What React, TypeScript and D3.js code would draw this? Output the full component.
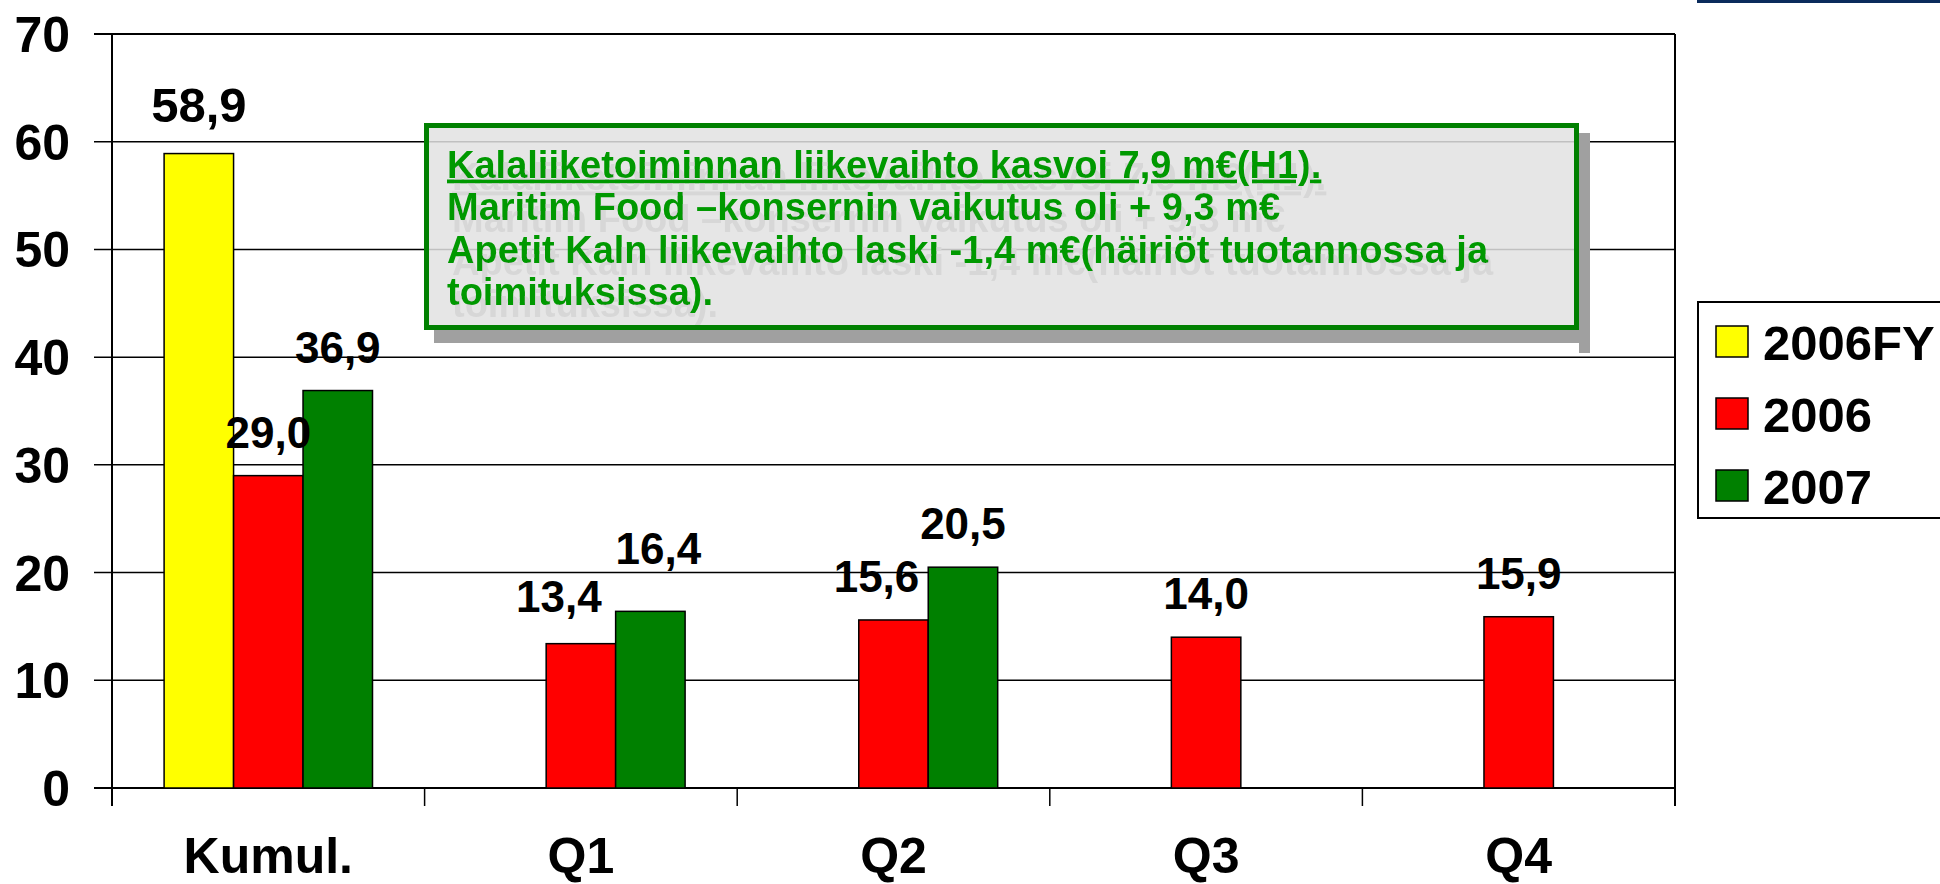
import React, { useEffect, useRef } from 'react';
import * as d3 from 'd3';

// chart data
const categories = ['Kumul.', 'Q1', 'Q2', 'Q3', 'Q4'];
const seriesNames = ['2006FY', '2006', '2007'];
const values2006FY = [58.9, null, null, null, null];
const values2006 = [29.0, 13.4, 15.6, 14.0, 15.9];
const values2007 = [36.9, 16.4, 20.5, null, null];
const yTicks = [0, 10, 20, 30, 40, 50, 60, 70];
const noteLines = [
  'Kalaliiketoiminnan liikevaihto kasvoi 7,9 m€(H1).',
  'Maritim Food –konsernin vaikutus oli + 9,3 m€',
  'Apetit Kaln liikevaihto laski -1,4 m€(häiriöt tuotannossa ja',
  'toimituksissa).',
];

const seriesColors = ['#ffff00', '#ff0000', '#008000'];
const FONT = '"Liberation Sans", Arial, Helvetica, sans-serif';

// hand-placed label nudges, like in the original slide
const labelNudge = {
  '2006FY|Kumul.': [0, -4],
  '2006|Q1': [-22, -4],
  '2007|Q1': [8, -19],
  '2006|Q2': [-17, 0],
};

const App = () => {
  const ref = useRef(null);

  useEffect(() => {
    document.body.style.margin = '0';
    const width = 1940;
    const height = 884;
    const left = 112, right = 1675, top = 34, bottom = 788;

    const svg = d3.select(ref.current);
    svg.selectAll('*').remove();
    svg.attr('width', width).attr('height', height);

    const defs = svg.append('defs');
    const shadow = defs.append('filter').attr('id', 'ghost')
      .attr('x', '-5%').attr('y', '-20%').attr('width', '115%').attr('height', '160%');
    shadow.append('feDropShadow')
      .attr('dx', 5).attr('dy', 12).attr('stdDeviation', 0)
      .attr('flood-color', '#d7d7d7').attr('flood-opacity', 1);

    const x = d3.scaleBand().domain(categories).range([left, right]).padding(0);
    const xs = d3.scaleBand().domain(seriesNames).range([0, x.bandwidth()])
      .paddingInner(0).paddingOuter(0.75);
    const y = d3.scaleLinear().domain([0, 70]).range([bottom, top]);

    const series = [values2006FY, values2006, values2007];

    // gridlines + y ticks
    svg.append('g').selectAll('line')
      .data(yTicks)
      .enter().append('line')
      .attr('x1', left - 18).attr('x2', right)
      .attr('y1', d => y(d)).attr('y2', d => y(d))
      .attr('stroke', '#000').attr('stroke-width', d => (d === 0 || d === 70 ? 2.2 : 1.5));

    svg.append('g').selectAll('text')
      .data(yTicks)
      .enter().append('text')
      .attr('x', 70).attr('y', d => y(d)).attr('dy', '0.36em')
      .attr('text-anchor', 'end')
      .style('font-family', FONT).style('font-weight', 'bold').style('font-size', '50px')
      .text(d => d);

    // axes frame
    svg.append('line').attr('x1', left).attr('x2', left).attr('y1', top).attr('y2', bottom + 18)
      .attr('stroke', '#000').attr('stroke-width', 2);
    svg.append('line').attr('x1', right).attr('x2', right).attr('y1', top).attr('y2', bottom + 18)
      .attr('stroke', '#000').attr('stroke-width', 2);
    svg.append('g').selectAll('line')
      .data(categories.slice(1))
      .enter().append('line')
      .attr('x1', d => x(d)).attr('x2', d => x(d))
      .attr('y1', bottom).attr('y2', bottom + 18)
      .attr('stroke', '#000').attr('stroke-width', 1.5);

    // bars
    const bars = [];
    series.forEach((vals, si) => {
      vals.forEach((v, ci) => {
        if (v == null) return;
        bars.push({ s: seriesNames[si], c: categories[ci], v, color: seriesColors[si] });
      });
    });

    svg.append('g').selectAll('rect')
      .data(bars)
      .enter().append('rect')
      .attr('x', d => x(d.c) + xs(d.s))
      .attr('y', d => y(d.v))
      .attr('width', xs.bandwidth())
      .attr('height', d => y(0) - y(d.v))
      .attr('fill', d => d.color)
      .attr('stroke', '#000').attr('stroke-width', 1.5);

    const fmt = d3.format('.1f');
    svg.append('g').selectAll('text')
      .data(bars)
      .enter().append('text')
      .attr('x', d => x(d.c) + xs(d.s) + xs.bandwidth() / 2 + (labelNudge[d.s + '|' + d.c] || [0, 0])[0])
      .attr('y', d => y(d.v) - 28 + (labelNudge[d.s + '|' + d.c] || [0, 0])[1])
      .attr('text-anchor', 'middle')
      .style('font-family', FONT).style('font-weight', 'bold')
      .style('font-size', d => (d.s === '2006FY' ? '49px' : '44px'))
      .text(d => fmt(d.v).replace('.', ','));

    // category labels
    svg.append('g').selectAll('text')
      .data(categories)
      .enter().append('text')
      .attr('x', d => x(d) + x.bandwidth() / 2)
      .attr('y', 873)
      .attr('text-anchor', 'middle')
      .style('font-family', FONT).style('font-weight', 'bold').style('font-size', '50px')
      .text(d => d);

    // note box
    const bx = 424, by = 123, bw = 1155, bh = 207;
    const note = svg.append('g');
    note.append('rect').attr('x', bx + bw).attr('y', by + 10).attr('width', 11).attr('height', bh + 13)
      .attr('fill', '#a0a0a0');
    note.append('rect').attr('x', bx + 10).attr('y', by + bh).attr('width', bw).attr('height', 13)
      .attr('fill', '#a0a0a0');
    note.append('rect').attr('x', bx).attr('y', by).attr('width', bw).attr('height', bh)
      .attr('fill', '#e2e2e2').attr('fill-opacity', 0.85);
    note.append('rect').attr('x', bx + 2.5).attr('y', by + 2.5).attr('width', bw - 5).attr('height', bh - 5)
      .attr('fill', 'none').attr('stroke', '#008000').attr('stroke-width', 5);

    note.append('g')
      .attr('filter', 'url(#ghost)')
      .selectAll('text')
      .data(noteLines)
      .enter().append('text')
      .attr('x', 447).attr('y', (d, i) => 177.5 + i * 42.5)
      .style('font-family', FONT).style('font-weight', 'bold').style('font-size', '38px')
      .style('text-decoration', (d, i) => (i === 0 ? 'underline' : 'none'))
      .attr('fill', '#009900')
      .text(d => d);

    // legend
    const lg = svg.append('g');
    lg.append('rect').attr('x', 1698).attr('y', 302).attr('width', 260).attr('height', 216)
      .attr('fill', '#fff').attr('stroke', '#000').attr('stroke-width', 2);
    const rows = lg.selectAll('g.row')
      .data(seriesNames)
      .enter().append('g')
      .attr('class', 'row')
      .attr('transform', (d, i) => `translate(0,${342 + i * 72})`);
    rows.append('rect').attr('x', 1716).attr('y', -16).attr('width', 32).attr('height', 31)
      .attr('fill', (d, i) => seriesColors[i]).attr('stroke', '#000').attr('stroke-width', 1.5);
    rows.append('text').attr('x', 1763).attr('y', 0).attr('dy', '0.36em')
      .style('font-family', FONT).style('font-weight', 'bold').style('font-size', '49px')
      .text(d => d);

    // slide decoration at top right
    svg.append('rect').attr('x', 1697).attr('y', 0).attr('width', 243).attr('height', 3)
      .attr('fill', '#0a2b5c');
  }, []);

  return (
    <svg ref={ref} style={{ position: 'absolute', left: 0, top: 0, display: 'block', background: '#fff' }}></svg>
  );
};

export default App;
